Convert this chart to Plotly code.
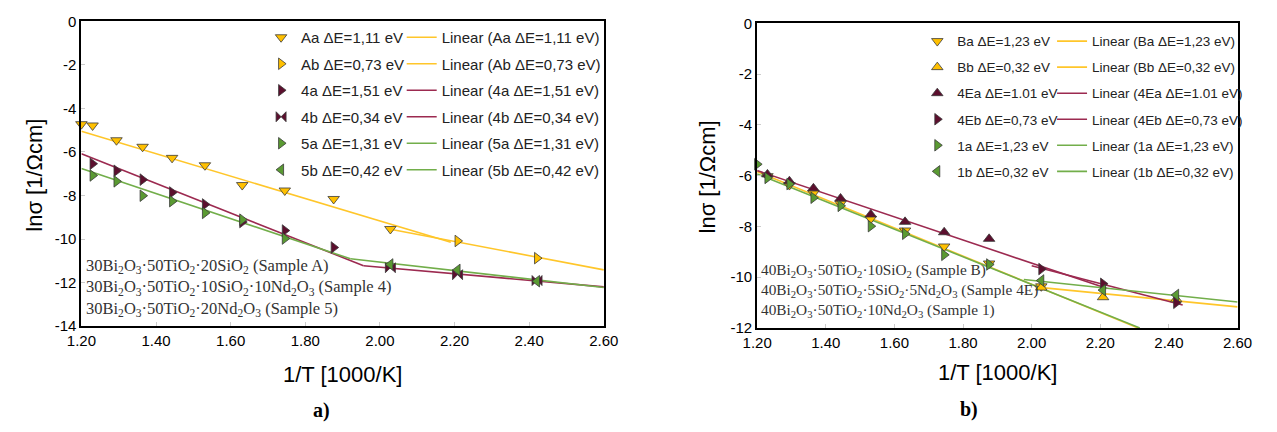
import plotly.graph_objects as go

W, H = 1277, 432

def px(x):
    return x / W

def py(y):
    return 1 - y / H

# ---------------- data: panel a) ----------------
Aa_x = [1.200, 1.230, 1.294, 1.364, 1.443, 1.531, 1.631, 1.745, 1.876, 2.028]
Aa_y = [-4.72, -4.78, -5.46, -5.76, -6.27, -6.61, -7.52, -7.77, -8.16, -9.54]
Ab_x = [2.208, 2.421]
Ab_y = [-10.09, -10.88]
S4a_x = [1.230, 1.294, 1.364, 1.443, 1.531, 1.631, 1.745, 1.876]
S4a_y = [-6.54, -6.86, -7.27, -7.86, -8.41, -9.22, -9.61, -10.39]
S4b_x = [2.028, 2.208, 2.421]
S4b_y = [-11.32, -11.64, -11.91]
S5a_x = [1.230, 1.294, 1.364, 1.443, 1.531, 1.631, 1.745]
S5a_y = [-7.08, -7.35, -8.01, -8.26, -8.80, -9.11, -9.98]
S5b_x = [2.028, 2.208, 2.421]
S5b_y = [-11.17, -11.42, -11.94]

# linear fit lines (end points)
Aa_fit_x = [1.20, 2.19]
Aa_fit_y = [-5.05, -10.15]
Ab_fit_x = [2.028, 2.60]
Ab_fit_y = [-9.55, -11.42]
S4a_fit_x = [1.20, 1.956]
S4a_fit_y = [-6.08, -11.23]
S4b_fit_x = [1.956, 2.60]
S4b_fit_y = [-11.23, -12.20]
S5a_fit_x = [1.20, 1.921]
S5a_fit_y = [-6.76, -10.91]
S5b_fit_x = [1.921, 2.60]
S5b_fit_y = [-10.91, -12.23]

# ---------------- data: panel b) ----------------
Ba_x = [1.230, 1.294, 1.364, 1.443, 1.531, 1.631, 1.745, 1.876, 2.028]
Ba_y = [-6.02, -6.37, -6.69, -7.10, -7.70, -8.16, -8.79, -9.46, -10.36]
Bb_x = [2.028, 2.208, 2.421]
Bb_y = [-10.41, -10.79, -10.87]
E4a_x = [1.230, 1.294, 1.364, 1.443, 1.531, 1.631, 1.745, 1.876]
E4a_y = [-5.95, -6.22, -6.50, -6.90, -7.53, -7.82, -8.23, -8.49]
E4b_x = [2.028, 2.208, 2.421]
E4b_y = [-9.68, -10.26, -11.01]
S1a_x = [1.200, 1.230, 1.294, 1.364, 1.443, 1.531, 1.631, 1.745, 1.876]
S1a_y = [-5.55, -6.09, -6.33, -6.87, -7.19, -7.99, -8.29, -9.12, -9.50]
S1b_x = [2.028, 2.208, 2.421]
S1b_y = [-10.13, -10.51, -10.70]

Ba_fit_x = [1.20, 2.31]
Ba_fit_y = [-5.84, -12.0]
Bb_fit_x = [2.03, 2.60]
Bb_fit_y = [-10.41, -11.17]
E4a_fit_x = [1.20, 2.22]
E4a_fit_y = [-5.80, -10.45]
E4b_fit_x = [2.00, 2.44]
E4b_fit_y = [-9.55, -11.10]
S1a_fit_x = [1.20, 2.315]
S1a_fit_y = [-5.93, -12.0]
S1b_fit_x = [1.977, 2.60]
S1b_fit_y = [-10.09, -10.98]

# tick labels
x_ticks = [1.2, 1.4, 1.6, 1.8, 2.0, 2.2, 2.4, 2.6]
x_ticktext = ["1.20", "1.40", "1.60", "1.80", "2.00", "2.20", "2.40", "2.60"]
ya_ticks = [0, -2, -4, -6, -8, -10, -12, -14]
ya_ticktext = ["0", "-2", "-4", "-6", "-8", "-10", "-12", "-14"]
yb_ticks = [0, -2, -4, -6, -8, -10, -12]
yb_ticktext = ["0", "-2", "-4", "-6", "-8", "-10", "-12"]

labels_a = ["Aa \u0394E=1,11 eV", "Ab \u0394E=0,73 eV", "4a \u0394E=1,51 eV",
            "4b \u0394E=0,34 eV", "5a \u0394E=1,31 eV", "5b \u0394E=0,42 eV"]
labels_b = ["Ba \u0394E=1,23 eV", "Bb \u0394E=0,32 eV", "4Ea \u0394E=1.01 eV",
            "4Eb \u0394E=0,73 eV", "1a \u0394E=1,23 eV", "1b \u0394E=0,32 eV"]

samples_a = ["30Bi<sub>2</sub>O<sub>3</sub>\u00b750TiO<sub>2</sub>\u00b720SiO<sub>2</sub> (Sample A)",
             "30Bi<sub>2</sub>O<sub>3</sub>\u00b750TiO<sub>2</sub>\u00b710SiO<sub>2</sub>\u00b710Nd<sub>2</sub>O<sub>3</sub> (Sample 4)",
             "30Bi<sub>2</sub>O<sub>3</sub>\u00b750TiO<sub>2</sub>\u00b720Nd<sub>2</sub>O<sub>3</sub> (Sample 5)"]
samples_b = ["40Bi<sub>2</sub>O<sub>3</sub>\u00b750TiO<sub>2</sub>\u00b710SiO<sub>2</sub> (Sample B)",
             "40Bi<sub>2</sub>O<sub>3</sub>\u00b750TiO<sub>2</sub>\u00b75SiO<sub>2</sub>\u00b75Nd<sub>2</sub>O<sub>3</sub> (Sample 4E)",
             "40Bi<sub>2</sub>O<sub>3</sub>\u00b750TiO<sub>2</sub>\u00b710Nd<sub>2</sub>O<sub>3</sub> (Sample 1)"]

# ---------------- styles ----------------
Y_M, Y_L = "#FFC000", "#FFC62A"
M_M, M_L = "#5C0F2E", "#9C2A50"
G_M, G_L = "#5A9A32", "#72AE4A"
OUT = "#3a3a3a"

fig = go.Figure()

def add_markers(x, y, name, sym, color, xa, ya, leg, grp):
    fig.add_trace(go.Scatter(
        x=x, y=y, mode="markers", name=name, xaxis=xa, yaxis=ya,
        legend=leg, legendgroup=grp, cliponaxis=False,
        marker=dict(symbol=sym, size=10, color=color, line=dict(color=OUT, width=0.8))))

def add_line(x, y, name, color, xa, ya, leg, grp):
    fig.add_trace(go.Scatter(
        x=x, y=y, mode="lines", name=name, xaxis=xa, yaxis=ya,
        legend=leg, legendgroup=grp,
        line=dict(color=color, width=1.6)))

mk_a = [(Aa_x, Aa_y, "triangle-down", Y_M), (Ab_x, Ab_y, "triangle-right", Y_M),
        (S4a_x, S4a_y, "triangle-right", M_M), (S4b_x, S4b_y, "bowtie", M_M),
        (S5a_x, S5a_y, "triangle-right", G_M), (S5b_x, S5b_y, "triangle-left", G_M)]
ln_a = [(Aa_fit_x, Aa_fit_y, Y_L), (Ab_fit_x, Ab_fit_y, Y_L),
        (S4a_fit_x, S4a_fit_y, M_L), (S4b_fit_x, S4b_fit_y, M_L),
        (S5a_fit_x, S5a_fit_y, G_L), (S5b_fit_x, S5b_fit_y, G_L)]
mk_b = [(Ba_x, Ba_y, "triangle-down", Y_M), (Bb_x, Bb_y, "triangle-up", Y_M),
        (E4a_x, E4a_y, "triangle-up", M_M), (E4b_x, E4b_y, "triangle-right", M_M),
        (S1a_x, S1a_y, "triangle-right", G_M), (S1b_x, S1b_y, "triangle-left", G_M)]
ln_b = [(Ba_fit_x, Ba_fit_y, Y_L), (Bb_fit_x, Bb_fit_y, Y_L),
        (E4a_fit_x, E4a_fit_y, M_L), (E4b_fit_x, E4b_fit_y, M_L),
        (S1a_fit_x, S1a_fit_y, G_L), (S1b_fit_x, S1b_fit_y, G_L)]

# lines first (drawn below), then markers
for i, (x, y, c) in enumerate(ln_a):
    add_line(x, y, "Linear (%s)" % labels_a[i], c, "x", "y", "legend2", "al%d" % i)
for i, (x, y, c) in enumerate(ln_b):
    add_line(x, y, "Linear (%s)" % labels_b[i], c, "x2", "y2", "legend4", "bl%d" % i)
for i, (x, y, s, c) in enumerate(mk_a):
    add_markers(x, y, labels_a[i], s, c, "x", "y", "legend", "am%d" % i)
for i, (x, y, s, c) in enumerate(mk_b):
    add_markers(x, y, labels_b[i], s, c, "x2", "y2", "legend3", "bm%d" % i)

SANS = "Liberation Sans, Arial, sans-serif"
SERIF = "Liberation Serif, Times New Roman, serif"

axis_common = dict(showline=True, linecolor="black", linewidth=2, mirror=True,
                   showgrid=False, zeroline=False, ticks="inside", ticklen=4,
                   tickcolor="#cccccc", tickwidth=1,
                   tickfont=dict(family=SANS, size=15, color="black"))

fig.update_layout(
    width=W, height=H, margin=dict(l=0, r=0, t=0, b=0),
    paper_bgcolor="white", plot_bgcolor="white", showlegend=True,
    xaxis=dict(domain=[px(68), px(603)], range=[1.2, 2.6], tickvals=x_ticks,
               ticktext=x_ticktext, anchor="y", **axis_common),
    yaxis=dict(domain=[py(330), py(13)], range=[-14, 0], tickvals=ya_ticks,
               ticktext=ya_ticktext, anchor="x", **axis_common),
    xaxis2=dict(domain=[px(760), px(1252)], range=[1.2, 2.6], tickvals=x_ticks,
                ticktext=x_ticktext, anchor="y2", **axis_common),
    yaxis2=dict(domain=[py(332), py(15)], range=[-12, 0], tickvals=yb_ticks,
                ticktext=yb_ticktext, anchor="x2", **axis_common),
)

leg_common = dict(xref="paper", yref="paper", xanchor="left", yanchor="top",
                  bgcolor="rgba(0,0,0,0)", borderwidth=0, traceorder="grouped",
                  itemclick=False, itemdoubleclick=False)
fig.update_layout(
    legend=dict(x=px(252), y=py(12.5), font=dict(family=SANS, size=15, color="#222"),
                tracegroupgap=4, **leg_common),
    legend2=dict(x=px(396), y=py(12.5), font=dict(family=SANS, size=15, color="#222"),
                 tracegroupgap=4, **leg_common),
    legend3=dict(x=px(924), y=py(17.5), font=dict(family=SANS, size=13.5, color="#222"),
                 tracegroupgap=5.5, **leg_common),
    legend4=dict(x=px(1062), y=py(17.5), font=dict(family=SANS, size=13.5, color="#222"),
                 tracegroupgap=5.5, **leg_common),
)

ann = [
    dict(x=px(71), y=py(290), xref="paper", yref="paper", text="<br>".join(samples_a),
         showarrow=False, xanchor="left", yanchor="middle", align="left",
         font=dict(family=SERIF, size=16.5, color="#333")),
    dict(x=px(762), y=py(293), xref="paper", yref="paper", text="<br>".join(samples_b),
         showarrow=False, xanchor="left", yanchor="middle", align="left",
         font=dict(family=SERIF, size=15.3, color="#333")),
]

titles = [
    dict(x=px(20), y=py(173), text="ln\u03c3 [1/\u03a9cm]", textangle=-90),
    dict(x=px(709), y=py(175), text="ln\u03c3 [1/\u03a9cm]", textangle=-90),
    dict(x=px(335), y=py(380), text="1/T [1000/K]"),
    dict(x=px(1006), y=py(378), text="1/T [1000/K]"),
]
for a in titles:
    a.update(xref="paper", yref="paper", showarrow=False, xanchor="center", yanchor="middle",
             font=dict(family=SANS, size=22, color="black"))
ann += titles
ann += [
    dict(x=px(314), y=py(418), text="<b>a)</b>", xref="paper", yref="paper", showarrow=False,
         xanchor="center", yanchor="middle", font=dict(family=SERIF, size=20, color="black")),
    dict(x=px(977), y=py(417), text="<b>b)</b>", xref="paper", yref="paper", showarrow=False,
         xanchor="center", yanchor="middle", font=dict(family=SERIF, size=20, color="black")),
]
fig.update_layout(annotations=ann)

fig.write_html("out.html")
